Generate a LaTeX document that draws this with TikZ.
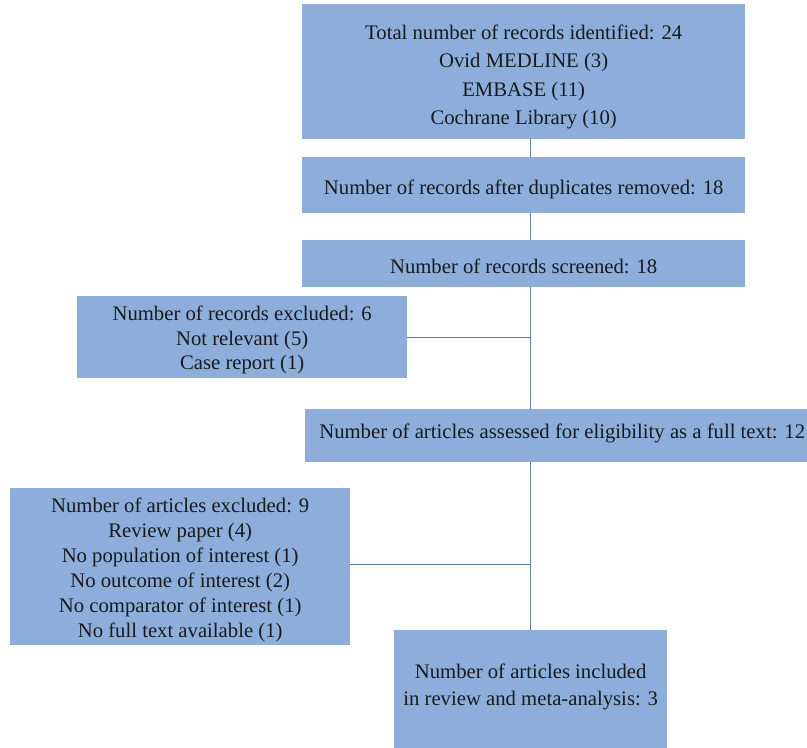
\documentclass[tikz,border=0pt]{standalone}
\usepackage{fontspec}
\setmainfont{Liberation Serif}
\definecolor{boxfill}{HTML}{8DAEDB}
\definecolor{linec}{HTML}{5F7FB0}
\definecolor{txt}{HTML}{1A1A1A}
\newcommand{\lowr}[2]{\raisebox{-#1pt}[\height][\depth]{#2}}
\begin{document}
\begin{tikzpicture}[x=1pt,y=-1pt,
  box/.style={draw=none,fill=boxfill,anchor=north west,inner sep=0pt,align=center,text=txt,font=\fontsize{20.7}{27}\selectfont},
  conn/.style={draw=linec,line width=1.3pt}]
\useasboundingbox (0,0) rectangle (807,748);
\node[box,minimum width=443pt,minimum height=135pt,font=\fontsize{20.7}{28.5}\selectfont] (b1) at (302,4)
  {\lowr{5}{Total number of records identified: 24}\\\lowr{5}{Ovid MEDLINE (3)}\\\lowr{5}{EMBASE (11)}\\\lowr{5}{Cochrane Library (10)}};
\node[box,minimum width=443pt,minimum height=56pt] (b2) at (302,157)
  {\lowr{4}{Number of records after duplicates removed: 18}};
\node[box,minimum width=443pt,minimum height=47pt] (b3) at (302,240)
  {\lowr{3}{Number of records screened: 18}};
\node[box,minimum width=330pt,minimum height=82pt,font=\fontsize{20.7}{24.5}\selectfont] (b4) at (77,296)
  {\lowr{3}{Number of records excluded: 6}\\\lowr{3}{Not relevant (5)}\\\lowr{3}{Case report (1)}};
\node[box,minimum width=502pt,minimum height=53pt] (b5) at (305,409)
  {\lowr{-2}{\hspace*{12pt}Number of articles assessed for eligibility as a full text: 12}};
\node[box,minimum width=340pt,minimum height=157pt,font=\fontsize{20.7}{25}\selectfont] (b6) at (10,488)
  {\lowr{3}{Number of articles excluded: 9}\\\lowr{3}{Review paper (4)}\\\lowr{3}{No population of interest (1)}\\\lowr{3}{No outcome of interest (2)}\\\lowr{3}{No comparator of interest (1)}\\\lowr{3}{No full text available (1)}};
\node[box,minimum width=273pt,minimum height=118pt] (b7) at (394,630)
  {\lowr{-2}{Number of articles included}\\\lowr{-2}{in review and meta-analysis: 3}};
\draw[conn] (b1.south -| b7.north) -- (b2.north -| b7.north);
\draw[conn] (b2.south -| b7.north) -- (b3.north -| b7.north);
\draw[conn] (b3.south -| b7.north) -- (b5.north -| b7.north);
\draw[conn] (b4.east) -- (b4.east -| b7.north);
\draw[conn] (b5.south -| b7.north) -- (b7.north);
\draw[conn] ([yshift=2pt]b6.east) -- ([yshift=2pt]b6.east -| b7.north);
\end{tikzpicture}
\end{document}
